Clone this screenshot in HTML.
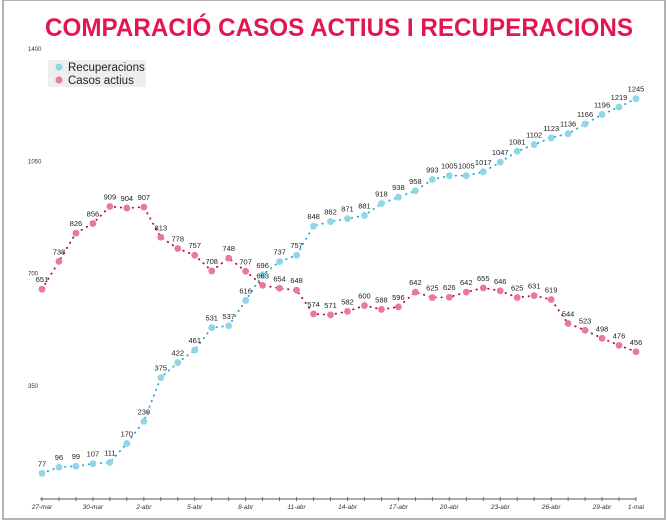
<!DOCTYPE html>
<html><head><meta charset="utf-8"><style>
body{margin:0;background:#fff;width:667px;height:523px;overflow:hidden;font-family:"Liberation Sans",sans-serif}
</style></head><body>
<svg width="667" height="523" id="svg">
<rect x="3" y="0" width="662" height="519" fill="#fff" stroke="#9a9a9a" stroke-width="1.5"/>
<text x="45" y="36" textLength="588" lengthAdjust="spacingAndGlyphs" font-size="25" font-weight="bold" fill="#e2174f">COMPARACIÓ CASOS ACTIUS I RECUPERACIONS</text>
<g>
<rect x="48" y="60" width="98" height="27" fill="#eeeeee"/>
<circle cx="59" cy="67" r="3.5" fill="#8fd6e6"/>
<text x="68" y="71" font-size="11.5" fill="#222">Recuperacions</text>
<circle cx="59" cy="80" r="3.5" fill="#e87a98"/>
<text x="68" y="84" font-size="11.5" fill="#222">Casos actius</text>
</g>
<g id="plot"></g>
</svg>
<script>
const yTicks=[350,700,1050,1400];
const xLabels=["27-mar","30-mar","2-abr","5-abr","8-abr","11-abr","14-abr","17-abr","20-abr","23-abr","26-abr","29-abr","1-mai"];
const xLabelIdx=[0,3,6,9,12,15,18,21,24,27,30,33,35];
const recuperacions=[77,96,99,107,111,170,239,375,422,461,531,537,616,696,737,757,848,862,871,881,918,938,958,993,1005,1005,1017,1047,1081,1102,1123,1136,1166,1196,1219,1245];
const casosActius=[651,738,826,856,909,904,907,813,778,757,708,748,707,663,654,648,574,571,582,600,588,596,642,625,626,642,655,646,625,631,619,544,523,498,476,456];
const NS="http://www.w3.org/2000/svg";
const g=document.getElementById('plot');
const x0=42,x1=636,y0=498,yScale=(498-49)/1400;
const X=i=>x0+i*(x1-x0)/(recuperacions.length-1);
const Y=v=>y0-v*yScale;
function mk(t,a){const e=document.createElementNS(NS,t);for(const k in a)e.setAttribute(k,a[k]);g.appendChild(e);return e;}
yTicks.forEach(v=>{const t=mk('text',{x:28,y:Y(v)+2,'font-size':6,fill:'#333'});t.textContent=v;

});
const ax=mk('line',{x1:x0-2,x2:x1,y1:499,y2:499,stroke:'#555','stroke-width':1});


for(let i=0;i<recuperacions.length;i++){const tk=mk('line',{x1:X(i),x2:X(i),y1:497,y2:501,stroke:'#555','stroke-width':0.8});

}
xLabels.forEach((l,k)=>{const t=mk('text',{x:X(xLabelIdx[k]),y:509,'font-size':6.5,'font-style':'italic','text-anchor':'middle',fill:'#333'});t.textContent=l;

});
function series(data,line,fill,name){
const pts=data.map((v,i)=>X(i)+','+Y(v)).join(' ');
const pl=mk('polyline',{points:pts,fill:'none',stroke:line,'stroke-width':1.8,'stroke-dasharray':'0.5 5.5','stroke-linecap':'round'});


data.forEach((v,i)=>{const c=mk('circle',{cx:X(i),cy:Y(v),r:3.4,fill:fill});


const t=mk('text',{x:X(i),y:Y(v)-7,'font-size':7.5,'text-anchor':'middle',fill:'#222'});t.textContent=v;

});
}
series(recuperacions,'#2aa9cf','#8fd6e6','recuperacions');
series(casosActius,'#b0103f','#e87a98','casos-actius');
</script>
</body></html>
